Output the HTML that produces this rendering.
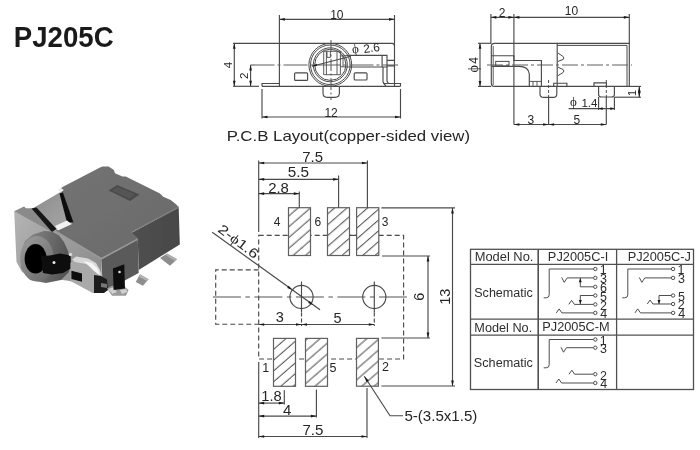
<!DOCTYPE html>
<html><head><meta charset="utf-8"><style>
html,body{margin:0;padding:0;background:#fff;overflow:hidden;}
svg{display:block;font-family:"Liberation Sans",sans-serif;will-change:transform;}
</style></head><body>
<svg width="700" height="450" viewBox="0 0 700 450">
<rect width="700" height="450" fill="#fff"/>
<defs>
<filter id="soft" x="-5%" y="-5%" width="110%" height="110%"><feGaussianBlur stdDeviation="0.45"/></filter>
<linearGradient id="gTop" x1="0" y1="0" x2="1" y2="1"><stop offset="0" stop-color="#737373"/><stop offset="1" stop-color="#6a6a6a"/></linearGradient>
<linearGradient id="gFront" x1="0" y1="0" x2="1" y2="0.6"><stop offset="0" stop-color="#b4b4b4"/><stop offset="0.5" stop-color="#a0a0a0"/><stop offset="1" stop-color="#8e8e8e"/></linearGradient>
<linearGradient id="gRight" x1="0" y1="0" x2="1" y2="0"><stop offset="0" stop-color="#505050"/><stop offset="1" stop-color="#474747"/></linearGradient>
<linearGradient id="gBarrel" x1="0" y1="0" x2="1" y2="0.2"><stop offset="0" stop-color="#8c8c8c"/><stop offset="0.55" stop-color="#6e6e6e"/><stop offset="1" stop-color="#555"/></linearGradient>
<linearGradient id="gRim" x1="0" y1="0" x2="0.8" y2="1"><stop offset="0" stop-color="#9c9c9c"/><stop offset="0.5" stop-color="#858585"/><stop offset="1" stop-color="#6c6c6c"/></linearGradient>
<linearGradient id="gRecess" x1="0" y1="0" x2="1" y2="1"><stop offset="0" stop-color="#8c8c8c"/><stop offset="1" stop-color="#a8a8a8"/></linearGradient>
</defs>
<g id="photo" filter="url(#soft)">
<!-- front-left light face -->
<polygon points="14.2,211.3 55,231 101.3,258.7 102,292 70,281 55,279 36,279.5 22,272 16.5,262" fill="url(#gFront)"/>
<!-- ledge -->
<polygon points="14.2,211.3 24,206.6 26,208.3 32.9,208.3 55.1,230.6 52,232" fill="#8a8a8a"/>
<!-- top face -->
<polygon points="58.7,189.7 62.5,187.1 100,167.5 102.5,166.6 108.6,166.6 113.9,170 115,173.2 122.5,176.4 125.7,176.4 160,193.6 163.2,196.8 170.7,200 176,204.3 178.7,207.1 131.6,232 137.8,239.1 101.3,258.7 63,235.5 55.1,230.6 72.9,222.6 61.3,191.4" fill="url(#gTop)"/>
<!-- bevel highlight along front edge of top -->
<polyline points="55.1,231 101.3,258.7 137.8,239.1" stroke="#9a9a9a" stroke-width="1.6" fill="none"/>
<polyline points="131.6,232 178.7,207.1" stroke="#7c7c7c" stroke-width="1.4" fill="none"/>
<!-- right face -->
<polygon points="131.6,232.8 178.7,207.8 179.8,244.4 138.7,270 137.8,239.1" fill="url(#gRight)"/>
<!-- front face -->
<polygon points="101.3,259.5 137.8,239.8 138.7,273 122,282 103,292" fill="#5a5a5a"/>
<!-- recess -->
<polygon points="32.9,208.3 61.3,191.4 72.9,222.6 55.1,230.6" fill="url(#gRecess)"/>
<polygon points="59.5,193.5 62.8,192.2 73.5,222.5 67,222.5" fill="#111"/>
<polygon points="31.5,208.6 36.5,207.6 56.5,229 52,232" fill="#151515"/>
<polygon points="55,226 67,220.5 70,223 72,224 58,230.5" fill="#f2f2f2"/>
<polygon points="57.5,189.8 61,188 63.8,190 60.5,192.5" fill="#f0f0f0"/>
<!-- slot on top -->
<polygon points="108.6,190.4 117.1,185 139.6,194.6 130,201.1" fill="#4c4c4c"/>
<polygon points="112,190.5 117.5,187 135,194.5 129.5,198.5" fill="#555"/>
<!-- barrel -->
<polygon points="21,252 25,241 33,234.5 44,231 52,231.5 59,235.5 64,242 68,251 70.5,262 69,272 61,280 46,283 30,280 21,268" fill="url(#gBarrel)"/>
<ellipse cx="37" cy="258.8" rx="16.8" ry="22.8" fill="url(#gRim)"/>
<ellipse cx="35.6" cy="258.8" rx="11" ry="14.8" fill="#060606"/>
<polygon points="41,256 50,255.5 60,253.5 70.7,255.5 70.7,268.5 63,273 52,274.5 43,273" fill="#0a0a0a"/>
<circle cx="54" cy="262.5" r="1.5" fill="#e8e8e8"/>
<circle cx="70.5" cy="254.5" r="1.8" fill="#d8d8d8"/>
<!-- tab -->
<polygon points="70.5,262.7 75,259.5 88,262 97,267.5 100,276 98.5,293 92.7,293 70.5,281" fill="#a9a9a9"/>
<polygon points="72,259.5 76,256.5 88,258.5 96,263 100,270 101.5,276 97,274 93,267.5 86,264 75,262" fill="#d8d8d8"/>
<polygon points="83,261 92,263 98,269 100,275 94,271 88,265" fill="#f4f4f4"/>
<polygon points="71.4,270.7 82,273.5 82,281.8 71.4,279" fill="#0a0a0a"/>
<polygon points="94,275 101,276 107,279.5 108,290 104,293 94,293" fill="#1e1e1e"/>
<polygon points="101,283 107,284 107,288 101,287" fill="#777"/>
<!-- leads -->
<polygon points="160,257.9 167.1,253.6 177.1,259.3 170,265.7" fill="#8c8c8c"/>
<polygon points="167.1,253.6 177.1,259.3 175,261 165.5,255" fill="#b0b0b0"/>
<polygon points="135.7,282.1 140,274.3 148.6,279.3 142.9,285.7" fill="#8e8e8e"/>
<polygon points="140,274.3 148.6,279.3 147,281 138.8,276.5" fill="#b5b5b5"/>
<polygon points="107,288.5 112,285.7 125,287 128.6,290 126,295.7 112,295.7" fill="#9a9a9a"/>
<polygon points="108,289 113,287.5 117,292 112.5,294" fill="#d0d0d0"/>
<polygon points="120,290 126,289 127.5,292 122,294" fill="#cfcfcf"/>
<polygon points="112.9,268.6 124.3,264.3 125,288.6 113.6,290" fill="#111"/>
<circle cx="119.5" cy="272" r="1.3" fill="#ddd"/>
</g>

<text x="13.81" y="46.80" font-size="29" fill="#1a1a1a" textLength="99.79" lengthAdjust="spacingAndGlyphs" font-weight="bold">PJ205C</text>
<line x1="279.4" y1="15" x2="279.4" y2="86.3" stroke="#4a4a4a" stroke-width="1.15"/>
<line x1="394.5" y1="15" x2="394.5" y2="86.3" stroke="#4a4a4a" stroke-width="1.15"/>
<line x1="279.4" y1="19.3" x2="394.5" y2="19.3" stroke="#4a4a4a" stroke-width="1.15"/>
<path d="M279.40,19.30 L284.90,17.95 L284.90,20.65 Z" fill="#1a1a1a"/>
<path d="M394.50,19.30 L389.00,20.65 L389.00,17.95 Z" fill="#1a1a1a"/>
<text x="330.20" y="19.00" font-size="12" fill="#262626">10</text>
<line x1="233" y1="43.3" x2="392" y2="43.3" stroke="#4a4a4a" stroke-width="1.15"/>
<path d="M392,43.3 Q394.5,43.3 394.5,46" stroke="#4a4a4a" fill="none" stroke-width="1.15"/>
<line x1="233" y1="86.3" x2="259" y2="86.3" stroke="#4a4a4a" stroke-width="1.15"/>
<line x1="262" y1="86.3" x2="400.5" y2="86.3" stroke="#4a4a4a" stroke-width="1.15"/>
<path d="M262,86.3 L262,83.5 L279.4,83.5" stroke="#4a4a4a" fill="none" stroke-width="1.15"/>
<path d="M383,83.5 L400.5,83.5 L400.5,86.3" stroke="#4a4a4a" fill="none" stroke-width="1.15"/>
<line x1="262" y1="89" x2="262" y2="118.5" stroke="#4a4a4a" stroke-width="1.15"/>
<line x1="400.5" y1="89" x2="400.5" y2="118.5" stroke="#4a4a4a" stroke-width="1.15"/>
<line x1="262" y1="117" x2="400.5" y2="117" stroke="#4a4a4a" stroke-width="1.15"/>
<path d="M262.00,117.00 L267.50,115.65 L267.50,118.35 Z" fill="#1a1a1a"/>
<path d="M400.50,117.00 L395.00,118.35 L395.00,115.65 Z" fill="#1a1a1a"/>
<text x="324.40" y="116.60" font-size="12" fill="#262626">12</text>
<line x1="234.3" y1="43.3" x2="234.3" y2="86.3" stroke="#4a4a4a" stroke-width="1.15"/>
<path d="M234.30,43.30 L235.65,48.80 L232.95,48.80 Z" fill="#1a1a1a"/>
<path d="M234.30,86.30 L232.95,80.80 L235.65,80.80 Z" fill="#1a1a1a"/>
<g transform="translate(228.20,65.10) rotate(-90)"><text x="-3.13" y="3.97" font-size="11.5" fill="#262626">4</text></g>
<line x1="250.6" y1="65.1" x2="250.6" y2="86.3" stroke="#4a4a4a" stroke-width="1.15"/>
<path d="M250.60,65.10 L251.95,70.60 L249.25,70.60 Z" fill="#1a1a1a"/>
<path d="M250.60,86.30 L249.25,80.80 L251.95,80.80 Z" fill="#1a1a1a"/>
<g transform="translate(244.40,75.80) rotate(-90)"><text x="-3.19" y="4.02" font-size="11.5" fill="#262626">2</text></g>
<line x1="250.5" y1="65" x2="398" y2="65" stroke="#606060" stroke-width="1.15" stroke-dasharray="24,3,3,3"/>
<line x1="331" y1="40" x2="331" y2="100" stroke="#6a6a6a" stroke-width="1.15" stroke-dasharray="12,2.5,2,2.5"/>
<circle cx="330.3" cy="64.8" r="21.4" stroke="#4a4a4a" fill="none" stroke-width="1"/>
<circle cx="330.3" cy="64.8" r="19.8" stroke="#4a4a4a" fill="none" stroke-width="1"/>
<circle cx="330.3" cy="64.8" r="17" stroke="#4a4a4a" fill="none" stroke-width="1"/>
<circle cx="330.3" cy="64.8" r="15.6" stroke="#4a4a4a" fill="none" stroke-width="1"/>
<path d="M323.7,51.3 L340.4,51.3 L340.4,74.7 L323.7,74.7 Z M326.4,51.3 L326.4,74.7 M337,51.3 L337,74.7 M327,52 L327,57.4 L330.4,57.4 L330.4,52" stroke="#4a4a4a" fill="none" stroke-width="0.9"/>
<path d="M340.4,56 L350,55.4 M340.4,66.7 L350,67 M343,56 L343,66.7" stroke="#4a4a4a" fill="none" stroke-width="0.9"/>
<rect x="294.6" y="72.8" width="13" height="7.6" rx="1" stroke="#4a4a4a" fill="none" stroke-width="1.15"/>
<rect x="354.2" y="72.8" width="12.8" height="7.2" rx="1" stroke="#4a4a4a" fill="none" stroke-width="1.15"/>
<path d="M323,86.3 L323,93 Q323,97.3 327,97.3 L335,97.3 Q339.4,97.3 339.4,93 L339.4,86.3" stroke="#4a4a4a" fill="none" stroke-width="1.15"/>
<path d="M350,55.4 L387,55.4 L387,67 L350,67 M382.1,55.4 L382.1,67 M387,60.3 L394.5,60.3 M387,65.8 L394.5,65.8" stroke="#4a4a4a" fill="none" stroke-width="1.15"/>
<path d="M383,67 L383,82 L386,86.3 M387,67 L387,81 L388.5,83.5" stroke="#4a4a4a" fill="none" stroke-width="1.15"/>
<line x1="312" y1="66.2" x2="351" y2="56.2" stroke="#4a4a4a" stroke-width="1.15"/>
<path d="M312.00,66.20 L316.55,63.80 L317.14,66.12 Z" fill="#1a1a1a"/>
<g transform="translate(352.4,53.4) rotate(-8)"><text x="0" y="0" font-size="11.8" fill="#262626"><tspan font-family="Liberation Serif" font-size="13">ϕ</tspan><tspan dx="4.6" dy="1.2">2.6</tspan></text></g>
<line x1="490.9" y1="14" x2="490.9" y2="43.3" stroke="#4a4a4a" stroke-width="1.15"/>
<line x1="513.9" y1="14" x2="513.9" y2="124.5" stroke="#4a4a4a" stroke-width="1.15"/>
<line x1="629.3" y1="14" x2="629.3" y2="43.3" stroke="#4a4a4a" stroke-width="1.15"/>
<line x1="490.9" y1="17.3" x2="629.3" y2="17.3" stroke="#4a4a4a" stroke-width="1.15"/>
<path d="M490.90,17.30 L496.40,15.95 L496.40,18.65 Z" fill="#1a1a1a"/>
<path d="M513.90,17.30 L508.40,18.65 L508.40,15.95 Z" fill="#1a1a1a"/>
<path d="M513.90,17.30 L519.40,15.95 L519.40,18.65 Z" fill="#1a1a1a"/>
<path d="M629.30,17.30 L623.80,18.65 L623.80,15.95 Z" fill="#1a1a1a"/>
<text x="498.70" y="17.10" font-size="12" fill="#262626">2</text>
<text x="564.85" y="15.00" font-size="12" fill="#262626">10</text>
<path d="M629.3,86.4 L629.3,43.3 L494.5,43.3 Q491.3,43.3 491.3,46.5 L491.3,83 Q491.3,86.4 494.5,86.4 Z" stroke="#4a4a4a" fill="none" stroke-width="1.15"/>
<line x1="493.2" y1="46" x2="493.2" y2="85" stroke="#4a4a4a" stroke-width="0.9"/>
<path d="M557,45.4 L627,45.4 L627,86.4" stroke="#4a4a4a" fill="none" stroke-width="1.0"/>
<line x1="557.2" y1="43.3" x2="557.2" y2="86.4" stroke="#4a4a4a" stroke-width="1.15"/>
<path d="M558,53 L563.2,56.6 Q564.6,58 563.2,59.4 L558,61.4 M558,67.2 L563.2,69.6 Q564.6,71 563.2,72.4 L558,75.7" stroke="#4a4a4a" fill="none" stroke-width="1.0"/>
<line x1="478" y1="43.3" x2="491.3" y2="43.3" stroke="#4a4a4a" stroke-width="1.15"/>
<line x1="478" y1="86.4" x2="491.3" y2="86.4" stroke="#4a4a4a" stroke-width="1.15"/>
<line x1="480" y1="43.3" x2="480" y2="86.4" stroke="#4a4a4a" stroke-width="1.15"/>
<path d="M480.00,43.30 L481.35,48.80 L478.65,48.80 Z" fill="#1a1a1a"/>
<path d="M480.00,86.40 L478.65,80.90 L481.35,80.90 Z" fill="#1a1a1a"/>
<g transform="translate(477.6,72.6) rotate(-90)"><text x="0" y="0" font-size="12" fill="#262626"><tspan font-family="Liberation Serif" font-size="14">ϕ</tspan><tspan dx="1.6">4</tspan></text></g>
<line x1="487" y1="65" x2="632" y2="65" stroke="#606060" stroke-width="1.15" stroke-dasharray="16,3,3,3"/>
<path d="M491.3,55.7 L513.9,55.7 L513.9,60.5 L541.4,60.5 L541.4,86.4" stroke="#4a4a4a" fill="none" stroke-width="1.15"/>
<rect x="495.7" y="61.4" width="13.3" height="4.5" stroke="#4a4a4a" fill="none" stroke-width="1"/>
<path d="M491.3,66.4 L519,66.4 Q528.5,66.4 529.3,74 L529.3,86.4" stroke="#4a4a4a" fill="none" stroke-width="1.15"/>
<path d="M529.3,81.4 L541.4,81.4 M533,81.4 L533,86.4 M537,81.4 L537,86.4" stroke="#4a4a4a" fill="none" stroke-width="0.9"/>
<path d="M553.7,86.4 L553.7,83.2 L566.9,83.2 L566.9,86.4" stroke="#4a4a4a" fill="none" stroke-width="1.15"/>
<path d="M594,86.4 L594,82.9 L606.4,82.9 L606.4,86.4" stroke="#4a4a4a" fill="none" stroke-width="1.15"/>
<path d="M540,86.4 L540,94 Q540,97.4 543.5,97.4 L553.3,97.4 Q556.8,97.4 556.8,94 L556.8,86.4" stroke="#4a4a4a" fill="none" stroke-width="1.15"/>
<path d="M598.6,86.4 L598.6,94.5 Q598.6,97 601.5,97 L611.5,97 Q614.4,97 614.4,94.5 L614.4,86.4" stroke="#4a4a4a" fill="none" stroke-width="1.15"/>
<line x1="548.6" y1="80" x2="548.6" y2="97" stroke="#4a4a4a" stroke-width="1" stroke-dasharray="3,2"/>
<line x1="548.6" y1="97" x2="548.6" y2="124.5" stroke="#4a4a4a" stroke-width="1.15"/>
<line x1="606.3" y1="80" x2="606.3" y2="97" stroke="#4a4a4a" stroke-width="1" stroke-dasharray="3,2"/>
<line x1="606.3" y1="97" x2="606.3" y2="124.5" stroke="#4a4a4a" stroke-width="1.15"/>
<line x1="513.9" y1="124.5" x2="606.3" y2="124.5" stroke="#4a4a4a" stroke-width="1.15"/>
<path d="M513.90,124.50 L519.40,123.15 L519.40,125.85 Z" fill="#1a1a1a"/>
<path d="M548.60,124.50 L543.10,125.85 L543.10,123.15 Z" fill="#1a1a1a"/>
<path d="M548.60,124.50 L554.10,123.15 L554.10,125.85 Z" fill="#1a1a1a"/>
<path d="M606.30,124.50 L600.80,125.85 L600.80,123.15 Z" fill="#1a1a1a"/>
<text x="527.52" y="124.00" font-size="12" fill="#262626">3</text>
<text x="573.52" y="124.40" font-size="12" fill="#262626">5</text>
<line x1="598.6" y1="97" x2="598.6" y2="110" stroke="#4a4a4a" stroke-width="1.15"/>
<line x1="614.4" y1="97" x2="614.4" y2="110" stroke="#4a4a4a" stroke-width="1.15"/>
<line x1="568.6" y1="108.6" x2="614.4" y2="108.6" stroke="#4a4a4a" stroke-width="1.15"/>
<path d="M598.60,108.60 L602.60,107.25 L602.60,109.95 Z" fill="#1a1a1a"/>
<path d="M614.40,108.60 L610.40,109.95 L610.40,107.25 Z" fill="#1a1a1a"/>
<text x="570.0" y="107.0" font-size="11.5" fill="#262626"><tspan font-family="Liberation Serif" font-size="13" dy="-1.2">ϕ</tspan><tspan dx="4.6" dy="1.2">1.4</tspan></text>
<line x1="614.4" y1="97.2" x2="641" y2="97.2" stroke="#4a4a4a" stroke-width="1.15"/>
<line x1="629.3" y1="86.4" x2="641" y2="86.4" stroke="#4a4a4a" stroke-width="1.15"/>
<line x1="639.3" y1="86.4" x2="639.3" y2="97.2" stroke="#4a4a4a" stroke-width="1.15"/>
<path d="M639.30,86.40 L640.65,91.90 L637.95,91.90 Z" fill="#1a1a1a"/>
<path d="M639.30,97.20 L637.95,91.70 L640.65,91.70 Z" fill="#1a1a1a"/>
<g transform="translate(632.00,92.70) rotate(-90)"><text x="-3.22" y="3.79" font-size="11" fill="#262626">1</text></g>
<text x="226.66" y="141.40" font-size="14.5" fill="#262626" textLength="243.42" lengthAdjust="spacingAndGlyphs">P.C.B Layout(copper-sided view)</text>
<path d="M258.7,235.4 L403.6,235.4 L403.6,359 L258.7,359 Z" stroke="#4a4a4a" fill="none" stroke-width="1.15" stroke-dasharray="5,3"/>
<path d="M258.7,269.8 L215.7,269.8 L215.7,324.2 L258.7,324.2" stroke="#4a4a4a" fill="none" stroke-width="1.15" stroke-dasharray="5,3"/>
<defs><pattern id="p4" patternUnits="userSpaceOnUse" width="8.15" height="20" patternTransform="rotate(49)"><line x1="2.0" y1="-1" x2="2.0" y2="21" stroke="#4a4a4a" stroke-width="1"/></pattern></defs>
<rect x="288.5" y="207.7" width="22.00" height="47.80" fill="#fff"/>
<rect x="288.5" y="207.7" width="22.00" height="47.80" fill="url(#p4)" stroke="#606060" stroke-width="1.2"/>
<defs><pattern id="p6" patternUnits="userSpaceOnUse" width="8.15" height="20" patternTransform="rotate(49)"><line x1="1.55" y1="-1" x2="1.55" y2="21" stroke="#4a4a4a" stroke-width="1"/></pattern></defs>
<rect x="327.5" y="207.7" width="22.00" height="47.80" fill="#fff"/>
<rect x="327.5" y="207.7" width="22.00" height="47.80" fill="url(#p6)" stroke="#606060" stroke-width="1.2"/>
<defs><pattern id="p3" patternUnits="userSpaceOnUse" width="8.15" height="20" patternTransform="rotate(49)"><line x1="6.9" y1="-1" x2="6.9" y2="21" stroke="#4a4a4a" stroke-width="1"/></pattern></defs>
<rect x="356.6" y="207.7" width="22.20" height="47.80" fill="#fff"/>
<rect x="356.6" y="207.7" width="22.20" height="47.80" fill="url(#p3)" stroke="#606060" stroke-width="1.2"/>
<line x1="349.5" y1="235.4" x2="356.6" y2="235.4" stroke="#4a4a4a" stroke-width="1.15"/>
<defs><pattern id="p1" patternUnits="userSpaceOnUse" width="8.15" height="20" patternTransform="rotate(49)"><line x1="3.05" y1="-1" x2="3.05" y2="21" stroke="#4a4a4a" stroke-width="1"/></pattern></defs>
<rect x="273.5" y="338.4" width="22.00" height="47.90" fill="#fff"/>
<rect x="273.5" y="338.4" width="22.00" height="47.90" fill="url(#p1)" stroke="#606060" stroke-width="1.2"/>
<defs><pattern id="p5" patternUnits="userSpaceOnUse" width="8.15" height="20" patternTransform="rotate(49)"><line x1="1.0" y1="-1" x2="1.0" y2="21" stroke="#4a4a4a" stroke-width="1"/></pattern></defs>
<rect x="305.5" y="338.4" width="22.00" height="47.90" fill="#fff"/>
<rect x="305.5" y="338.4" width="22.00" height="47.90" fill="url(#p5)" stroke="#606060" stroke-width="1.2"/>
<defs><pattern id="p2" patternUnits="userSpaceOnUse" width="8.15" height="20" patternTransform="rotate(49)"><line x1="7.25" y1="-1" x2="7.25" y2="21" stroke="#4a4a4a" stroke-width="1"/></pattern></defs>
<rect x="356.5" y="338.4" width="21.90" height="47.80" fill="#fff"/>
<rect x="356.5" y="338.4" width="21.90" height="47.80" fill="url(#p2)" stroke="#606060" stroke-width="1.2"/>
<text x="273.66" y="225.90" font-size="12" fill="#262626">4</text>
<text x="314.40" y="225.90" font-size="12" fill="#262626">6</text>
<text x="381.82" y="225.90" font-size="12" fill="#262626">3</text>
<text x="262.26" y="372.40" font-size="12.5" fill="#262626">1</text>
<text x="329.50" y="372.40" font-size="12.5" fill="#262626">5</text>
<text x="381.98" y="371.30" font-size="12.5" fill="#262626">2</text>
<line x1="258.7" y1="160.5" x2="258.7" y2="232" stroke="#4a4a4a" stroke-width="1.15"/>
<line x1="367.4" y1="160.5" x2="367.4" y2="207.7" stroke="#4a4a4a" stroke-width="1.15"/>
<line x1="338.6" y1="175.5" x2="338.6" y2="207.7" stroke="#4a4a4a" stroke-width="1.15"/>
<line x1="299.3" y1="191.5" x2="299.3" y2="207.7" stroke="#4a4a4a" stroke-width="1.15"/>
<line x1="258.7" y1="163" x2="367.4" y2="163" stroke="#4a4a4a" stroke-width="1.15"/>
<path d="M258.70,163.00 L264.20,161.65 L264.20,164.35 Z" fill="#1a1a1a"/>
<path d="M367.40,163.00 L361.90,164.35 L361.90,161.65 Z" fill="#1a1a1a"/>
<line x1="258.7" y1="179.3" x2="338.6" y2="179.3" stroke="#4a4a4a" stroke-width="1.15"/>
<path d="M258.70,179.30 L264.20,177.95 L264.20,180.65 Z" fill="#1a1a1a"/>
<path d="M338.60,179.30 L333.10,180.65 L333.10,177.95 Z" fill="#1a1a1a"/>
<line x1="258.7" y1="193.6" x2="299.3" y2="193.6" stroke="#4a4a4a" stroke-width="1.15"/>
<path d="M258.70,193.60 L264.20,192.25 L264.20,194.95 Z" fill="#1a1a1a"/>
<path d="M299.30,193.60 L293.80,194.95 L293.80,192.25 Z" fill="#1a1a1a"/>
<text x="302.25" y="162.00" font-size="14" fill="#262626" textLength="20.75" lengthAdjust="spacingAndGlyphs">7.5</text>
<text x="287.69" y="176.70" font-size="14" fill="#262626" textLength="21.22" lengthAdjust="spacingAndGlyphs">5.5</text>
<text x="268.15" y="193.30" font-size="14" fill="#262626" textLength="20.75" lengthAdjust="spacingAndGlyphs">2.8</text>
<line x1="212.9" y1="297" x2="409" y2="297" stroke="#555" stroke-width="1.15" stroke-dasharray="28,4.5,4.5,4.5"/>
<circle cx="301.5" cy="297" r="11.6" stroke="#4a4a4a" fill="none" stroke-width="1.15"/>
<line x1="301.5" y1="281.6" x2="301.5" y2="312.4" stroke="#4a4a4a" stroke-width="1.15"/>
<line x1="301.5" y1="312.4" x2="301.5" y2="326" stroke="#4a4a4a" stroke-width="1.15" stroke-dasharray="4,2"/>
<circle cx="374.3" cy="297" r="11.6" stroke="#4a4a4a" fill="none" stroke-width="1.15"/>
<line x1="374.3" y1="281.6" x2="374.3" y2="312.4" stroke="#4a4a4a" stroke-width="1.15"/>
<line x1="374.3" y1="312.4" x2="374.3" y2="326" stroke="#4a4a4a" stroke-width="1.15" stroke-dasharray="4,2"/>
<line x1="212.2" y1="232.2" x2="320" y2="309.8" stroke="#4a4a4a" stroke-width="1.15"/>
<path d="M292.00,289.80 L287.18,287.93 L288.70,285.82 Z" fill="#1a1a1a"/>
<path d="M313.00,304.90 L308.18,303.03 L309.70,300.92 Z" fill="#1a1a1a"/>
<g transform="translate(217,231) rotate(37)"><text x="0" y="0" font-size="13.5" fill="#262626" textLength="47" lengthAdjust="spacingAndGlyphs">2-<tspan font-family="Liberation Serif">ϕ</tspan>1.6</text></g>
<line x1="258.7" y1="324.5" x2="374.3" y2="324.5" stroke="#4a4a4a" stroke-width="1.15"/>
<path d="M258.70,324.50 L264.20,323.15 L264.20,325.85 Z" fill="#1a1a1a"/>
<path d="M301.50,324.50 L296.00,325.85 L296.00,323.15 Z" fill="#1a1a1a"/>
<path d="M301.50,324.50 L307.00,323.15 L307.00,325.85 Z" fill="#1a1a1a"/>
<path d="M374.30,324.50 L368.80,325.85 L368.80,323.15 Z" fill="#1a1a1a"/>
<text x="275.82" y="321.80" font-size="14.5" fill="#262626">3</text>
<text x="333.52" y="322.70" font-size="14.5" fill="#262626">5</text>
<line x1="381.4" y1="207.9" x2="455" y2="207.9" stroke="#4a4a4a" stroke-width="1.15"/>
<line x1="381.4" y1="386" x2="455" y2="386" stroke="#4a4a4a" stroke-width="1.15"/>
<line x1="452.5" y1="207.9" x2="452.5" y2="386" stroke="#4a4a4a" stroke-width="1.15"/>
<path d="M452.50,207.90 L453.85,213.40 L451.15,213.40 Z" fill="#1a1a1a"/>
<path d="M452.50,386.00 L451.15,380.50 L453.85,380.50 Z" fill="#1a1a1a"/>
<line x1="382" y1="256" x2="430" y2="256" stroke="#4a4a4a" stroke-width="1.15"/>
<line x1="381.4" y1="338" x2="430" y2="338" stroke="#4a4a4a" stroke-width="1.15"/>
<line x1="428" y1="256" x2="428" y2="338" stroke="#4a4a4a" stroke-width="1.15"/>
<path d="M428.00,256.00 L429.35,261.50 L426.65,261.50 Z" fill="#1a1a1a"/>
<path d="M428.00,338.00 L426.65,332.50 L429.35,332.50 Z" fill="#1a1a1a"/>
<g transform="translate(418.90,296.70) rotate(-90)"><text x="-4.10" y="5.00" font-size="14.5" fill="#262626">6</text></g>
<g transform="translate(444.90,296.50) rotate(-90)"><text x="-8.30" y="5.00" font-size="14.5" fill="#262626">13</text></g>
<line x1="258.7" y1="362" x2="258.7" y2="438" stroke="#4a4a4a" stroke-width="1.15"/>
<line x1="284.3" y1="389.9" x2="284.3" y2="404.5" stroke="#4a4a4a" stroke-width="1.15"/>
<line x1="316.4" y1="389.5" x2="316.4" y2="417.5" stroke="#4a4a4a" stroke-width="1.15"/>
<line x1="367" y1="388" x2="367" y2="438" stroke="#4a4a4a" stroke-width="1.15"/>
<line x1="258.7" y1="403.1" x2="284.3" y2="403.1" stroke="#4a4a4a" stroke-width="1.15"/>
<path d="M258.70,403.10 L264.20,401.75 L264.20,404.45 Z" fill="#1a1a1a"/>
<path d="M284.30,403.10 L278.80,404.45 L278.80,401.75 Z" fill="#1a1a1a"/>
<line x1="258.7" y1="416.1" x2="316.4" y2="416.1" stroke="#4a4a4a" stroke-width="1.15"/>
<path d="M258.70,416.10 L264.20,414.75 L264.20,417.45 Z" fill="#1a1a1a"/>
<path d="M316.40,416.10 L310.90,417.45 L310.90,414.75 Z" fill="#1a1a1a"/>
<line x1="258.7" y1="436.5" x2="367" y2="436.5" stroke="#4a4a4a" stroke-width="1.15"/>
<path d="M258.70,436.50 L264.20,435.15 L264.20,437.85 Z" fill="#1a1a1a"/>
<path d="M367.00,436.50 L361.50,437.85 L361.50,435.15 Z" fill="#1a1a1a"/>
<text x="261.30" y="400.90" font-size="14" fill="#262626" textLength="20.39" lengthAdjust="spacingAndGlyphs">1.8</text>
<text x="282.90" y="414.80" font-size="14" fill="#262626" textLength="8.37" lengthAdjust="spacingAndGlyphs">4</text>
<text x="302.45" y="434.50" font-size="14" fill="#262626" textLength="20.96" lengthAdjust="spacingAndGlyphs">7.5</text>
<path d="M364.3,376.3 L390,415.7 L403,415.7" stroke="#4a4a4a" fill="none" stroke-width="1.15"/>
<path d="M364.30,376.30 L368.75,380.56 L366.41,382.09 Z" fill="#1a1a1a"/>
<text x="404.40" y="420.70" font-size="14" fill="#262626" textLength="72.92" lengthAdjust="spacingAndGlyphs">5-(3.5x1.5)</text>
<rect x="470.5" y="249.3" width="223" height="140.2" stroke="#505050" fill="none" stroke-width="1.3"/>
<line x1="538.2" y1="249.3" x2="538.2" y2="389.5" stroke="#505050" stroke-width="1.6"/>
<line x1="616.6" y1="249.3" x2="616.6" y2="389.5" stroke="#505050" stroke-width="1.3"/>
<line x1="470.5" y1="264.4" x2="693.5" y2="264.4" stroke="#505050" stroke-width="1.3"/>
<line x1="470.5" y1="319.1" x2="693.5" y2="319.1" stroke="#505050" stroke-width="1.3"/>
<line x1="470.5" y1="335.1" x2="693.5" y2="335.1" stroke="#505050" stroke-width="1.3"/>
<text x="474.67" y="261.00" font-size="12.5" fill="#2e2e2e" textLength="58.73" lengthAdjust="spacingAndGlyphs">Model No.</text>
<text x="547.88" y="260.50" font-size="12.5" fill="#2e2e2e" textLength="60.33" lengthAdjust="spacingAndGlyphs">PJ2005C-I</text>
<text x="627.68" y="260.50" font-size="12.5" fill="#2e2e2e" textLength="63.31" lengthAdjust="spacingAndGlyphs">PJ2005C-J</text>
<text x="474.23" y="297.20" font-size="12.5" fill="#2e2e2e" textLength="58.66" lengthAdjust="spacingAndGlyphs">Schematic</text>
<text x="474.39" y="332.00" font-size="12.5" fill="#2e2e2e" textLength="57.79" lengthAdjust="spacingAndGlyphs">Model No.</text>
<text x="542.28" y="331.20" font-size="12.5" fill="#2e2e2e" textLength="67.41" lengthAdjust="spacingAndGlyphs">PJ2005C-M</text>
<text x="473.83" y="367.20" font-size="12.5" fill="#2e2e2e" textLength="59.07" lengthAdjust="spacingAndGlyphs">Schematic</text>
<path d="M593.6,269 L549.2,269 L549.2,294.8 Q549.2,297.8 546.2,297.8 L543.7,297.8" stroke="#444" fill="none" stroke-width="0.95"/>
<path d="M561.7,277.4 L564.2,282.4 L567.2,277.9 L593.6,277.9" stroke="#444" fill="none" stroke-width="0.95"/>
<path d="M568.8,304.4 L571.5999999999999,300.4 L574.4,304.4 L593.6,304.4" stroke="#444" fill="none" stroke-width="0.95"/>
<path d="M556.3,312.9 L559.0999999999999,308.9 L561.9,312.9 L593.6,312.9" stroke="#444" fill="none" stroke-width="0.95"/>
<circle cx="595.3000000000001" cy="269" r="1.7" stroke="#444" fill="#fff" stroke-width="0.95"/>
<text x="599.66" y="274.30" font-size="12.5" fill="#2e2e2e">1</text>
<circle cx="595.3000000000001" cy="277.9" r="1.7" stroke="#444" fill="#fff" stroke-width="0.95"/>
<text x="600.10" y="283.20" font-size="12.5" fill="#2e2e2e">3</text>
<circle cx="595.3000000000001" cy="286.8" r="1.7" stroke="#444" fill="#fff" stroke-width="0.95"/>
<text x="599.98" y="292.10" font-size="12.5" fill="#2e2e2e">6</text>
<circle cx="595.3000000000001" cy="295.5" r="1.7" stroke="#444" fill="#fff" stroke-width="0.95"/>
<text x="600.10" y="300.80" font-size="12.5" fill="#2e2e2e">5</text>
<circle cx="595.3000000000001" cy="304.4" r="1.7" stroke="#444" fill="#fff" stroke-width="0.95"/>
<text x="599.98" y="309.70" font-size="12.5" fill="#2e2e2e">2</text>
<circle cx="595.3000000000001" cy="312.9" r="1.7" stroke="#444" fill="#fff" stroke-width="0.95"/>
<text x="600.35" y="318.20" font-size="12.5" fill="#2e2e2e">4</text>
<path d="M580.3,277.9 L580.3,286.8 L593.6,286.8 M580.3,295.5 L593.6,295.5 M580.3,295.5 L580.3,304.4" stroke="#444" fill="none" stroke-width="0.95"/>
<path d="M580.30,278.30 L581.80,282.30 L578.80,282.30 Z" fill="#1a1a1a"/>
<path d="M580.30,304.00 L578.80,300.00 L581.80,300.00 Z" fill="#1a1a1a"/>
<path d="M671.4,269 L627.8,269 L627.8,294.8 Q627.8,297.8 624.8,297.8 L622.3,297.8" stroke="#444" fill="none" stroke-width="0.95"/>
<path d="M639.3,277.4 L641.8,282.4 L644.8,277.9 L671.4,277.9" stroke="#444" fill="none" stroke-width="0.95"/>
<path d="M647.3,304 L650.0999999999999,300 L652.9,304 L671.4,304" stroke="#444" fill="none" stroke-width="0.95"/>
<path d="M634.9,312.9 L637.6999999999999,308.9 L640.5,312.9 L671.4,312.9" stroke="#444" fill="none" stroke-width="0.95"/>
<circle cx="673.1" cy="269" r="1.7" stroke="#444" fill="#fff" stroke-width="0.95"/>
<text x="677.46" y="274.30" font-size="12.5" fill="#2e2e2e">1</text>
<circle cx="673.1" cy="277.9" r="1.7" stroke="#444" fill="#fff" stroke-width="0.95"/>
<text x="677.90" y="283.20" font-size="12.5" fill="#2e2e2e">3</text>
<circle cx="673.1" cy="295.5" r="1.7" stroke="#444" fill="#fff" stroke-width="0.95"/>
<text x="677.90" y="300.80" font-size="12.5" fill="#2e2e2e">5</text>
<circle cx="673.1" cy="304" r="1.7" stroke="#444" fill="#fff" stroke-width="0.95"/>
<text x="677.77" y="309.30" font-size="12.5" fill="#2e2e2e">2</text>
<circle cx="673.1" cy="312.9" r="1.7" stroke="#444" fill="#fff" stroke-width="0.95"/>
<text x="678.15" y="318.20" font-size="12.5" fill="#2e2e2e">4</text>
<path d="M659,295.5 L671.4,295.5 M659,295.5 L659,304" stroke="#444" fill="none" stroke-width="0.95"/>
<path d="M659.00,304.00 L657.50,300.00 L660.50,300.00 Z" fill="#1a1a1a"/>
<path d="M593.6,339.5 L549.2,339.5 L549.2,364.8 Q549.2,367.8 546.2,367.8 L543.7,367.8" stroke="#444" fill="none" stroke-width="0.95"/>
<path d="M561,347.2 L563.5,352.2 L566.5,347.7 L593.6,347.7" stroke="#444" fill="none" stroke-width="0.95"/>
<path d="M569,374.2 L571.8,370.2 L574.6,374.2 L593.6,374.2" stroke="#444" fill="none" stroke-width="0.95"/>
<path d="M556,383 L558.8,379 L561.6,383 L593.6,383" stroke="#444" fill="none" stroke-width="0.95"/>
<circle cx="595.3000000000001" cy="339.5" r="1.7" stroke="#444" fill="#fff" stroke-width="0.95"/>
<text x="599.66" y="344.80" font-size="12.5" fill="#2e2e2e">1</text>
<circle cx="595.3000000000001" cy="347.7" r="1.7" stroke="#444" fill="#fff" stroke-width="0.95"/>
<text x="600.10" y="353.00" font-size="12.5" fill="#2e2e2e">3</text>
<circle cx="595.3000000000001" cy="374.2" r="1.7" stroke="#444" fill="#fff" stroke-width="0.95"/>
<text x="599.98" y="379.50" font-size="12.5" fill="#2e2e2e">2</text>
<circle cx="595.3000000000001" cy="383" r="1.7" stroke="#444" fill="#fff" stroke-width="0.95"/>
<text x="600.35" y="388.30" font-size="12.5" fill="#2e2e2e">4</text>
</svg>
</body></html>
